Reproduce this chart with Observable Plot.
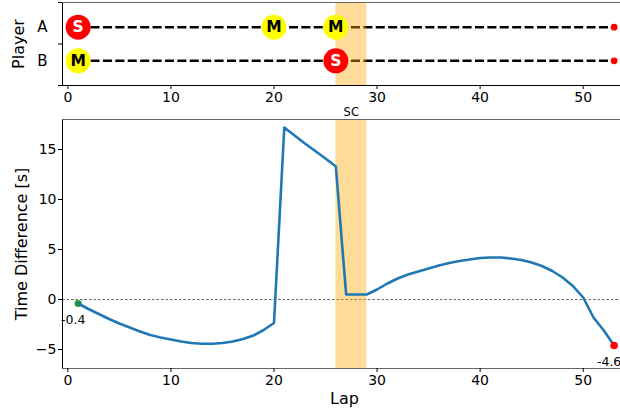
<!DOCTYPE html>
<html><head><meta charset="utf-8">
<script src="https://cdn.jsdelivr.net/npm/d3@7"></script>
<script src="https://cdn.jsdelivr.net/npm/@observablehq/plot@0.6"></script>
<style>body{margin:0;background:#fff;} #chart svg{display:block;}</style>
</head><body><div id="chart"></div>
<script>
// ---- data ----
const players = ["A", "B"];
const stintLapsA = [1, 20, 26];
const stintTyresA = ["S", "M", "M"];
const stintLapsB = [1, 26];
const stintTyresB = ["M", "S"];
const finalLap = 53;
const scStart = 26, scEnd = 29;
const scLabel = "SC";
const laps = [1,2,3,4,5,6,7,8,9,10,11,12,13,14,15,16,17,18,19,20,21,22,23,24,25,26,27,28,29,30,31,32,33,34,35,36,37,38,39,40,41,42,43,44,45,46,47,48,49,50,51,52,53];
const timeDiff = [-0.4,-0.95,-1.45,-1.95,-2.4,-2.8,-3.2,-3.55,-3.8,-4.0,-4.2,-4.35,-4.42,-4.42,-4.35,-4.2,-3.95,-3.6,-3.05,-2.35,
  17.2,16.4,15.6,14.85,14.1,13.3,0.5,0.5,0.5,1.0,1.6,2.1,2.5,2.8,3.1,3.4,3.65,3.85,4.0,4.15,4.2,4.2,4.1,3.95,3.7,3.35,2.85,2.2,1.35,0.2,-1.8,-3.1,-4.6];
const xTicks = [0, 10, 20, 30, 40, 50];
const yTicks = [-5, 0, 5, 10, 15];

// ---- derived tables ----
const yPos = {A: 1, B: 0};
const stints = [
  ...stintLapsA.map((l, i) => ({lap: l, player: "A", tyre: stintTyresA[i]})),
  ...stintLapsB.map((l, i) => ({lap: l, player: "B", tyre: stintTyresB[i]}))
];
const series = laps.map((l, i) => ({lap: l, diff: timeDiff[i]}));
const firstPt = series[0], lastPt = series[series.length - 1];
const xDomain = [-0.52, 53.62];
const topY = [-0.735, 1.735];
const botY = [-6.9, 18.0];
const font = "DejaVu Sans, sans-serif";

const topPlot = Plot.plot({
  width: 620, height: 116, marginTop: 2, marginBottom: 31, marginLeft: 62, marginRight: 0,
  style: {fontFamily: font, fontSize: "14px", color: "#000", background: "#fff", overflow: "visible"},
  x: {domain: xDomain},
  y: {domain: topY},
  color: {type: "identity"},
  marks: [
    Plot.link(players, {x1: () => laps[0], x2: () => finalLap, y1: p => yPos[p], y2: p => yPos[p],
      stroke: "#000", strokeWidth: 2.5, strokeDasharray: "9,3.4"}),
    Plot.rect([{x1: scStart, x2: scEnd}], {x1: "x1", x2: "x2", fill: "orange", fillOpacity: 0.4}),
    Plot.dot(stints, {x: "lap", y: d => yPos[d.player], r: 12.5,
      fill: d => d.tyre === "S" ? "#ff0000" : "#ffff00", stroke: null}),
    Plot.text(stints, {x: "lap", y: d => yPos[d.player], text: "tyre", fontWeight: "bold", fontSize: 15.5,
      fill: d => d.tyre === "S" ? "#ffffff" : "#000000"}),
    Plot.dot(players, {x: () => finalLap, y: p => yPos[p], r: 3.4, fill: "#ff0000", stroke: null}),
    Plot.ruleX([xDomain[0]], {stroke: "#000", strokeWidth: 1}),
    Plot.ruleY([topY[1]], {stroke: "#666", strokeWidth: 1}),
    Plot.ruleY([topY[0]], {stroke: "#000", strokeWidth: 1}),
    Plot.axisX({ticks: xTicks, tickSize: 4, tickPadding: 3, label: null, fontSize: 14}),
    Plot.axisY({ticks: [1, 0], tickFormat: d => players[1 - d], tickSize: 0, tickPadding: 15, label: null, fontSize: 15}),
    Plot.axisY({ticks: [topY[0], 0.5, topY[1]], tickFormat: () => "", tickSize: 4, label: null}),
    Plot.text(["Player"], {frameAnchor: "left", dx: -44, rotate: -90, fontSize: 16, textAnchor: "middle", lineAnchor: "middle"}),
    Plot.text([scLabel], {x: () => (scStart + scEnd) / 2, frameAnchor: "bottom", dy: 27, fontSize: 11.5, lineAnchor: "middle"})
  ]
});

const botPlot = Plot.plot({
  width: 620, height: 298, marginTop: 3, marginBottom: 46, marginLeft: 62, marginRight: 0,
  style: {fontFamily: font, fontSize: "14px", color: "#000", background: "#fff", overflow: "visible"},
  x: {domain: xDomain},
  y: {domain: botY},
  marks: [
    Plot.ruleY([0], {stroke: "#666", strokeWidth: 1.2, strokeDasharray: "2.5,2"}),
    Plot.rect([{x1: scStart, x2: scEnd}], {x1: "x1", x2: "x2", fill: "orange", fillOpacity: 0.4}),
    Plot.dot([firstPt], {x: "lap", y: "diff", r: 3.6, fill: "#22a022", stroke: null}),
    Plot.line(series, {x: "lap", y: "diff", stroke: "#1f77b4", strokeWidth: 2.6}),
    Plot.dot([lastPt], {x: "lap", y: "diff", r: 3.8, fill: "#ff0000", stroke: null}),
    Plot.text([firstPt, lastPt], {x: "lap", y: "diff", text: d => d.diff.toFixed(1), dx: -5, dy: 16, fontSize: 12.5}),
    Plot.ruleX([xDomain[0]], {stroke: "#000", strokeWidth: 1}),
    Plot.ruleY([botY[1]], {stroke: "#666", strokeWidth: 1}),
    Plot.ruleY([botY[0]], {stroke: "#666", strokeWidth: 1}),
    Plot.axisX({ticks: xTicks, tickSize: 4, tickPadding: 3, label: null, fontSize: 14}),
    Plot.axisY({ticks: yTicks, tickSize: 4, tickPadding: 2, label: null, fontSize: 14}),
    Plot.text(["Time Difference [s]"], {frameAnchor: "left", dx: -41, rotate: -90, fontSize: 16, textAnchor: "middle", lineAnchor: "middle"}),
    Plot.text(["Lap"], {frameAnchor: "bottom", dy: 30, dx: 3, fontSize: 16, lineAnchor: "middle"})
  ]
});

document.getElementById("chart").append(topPlot, botPlot);
</script>
</body></html>
